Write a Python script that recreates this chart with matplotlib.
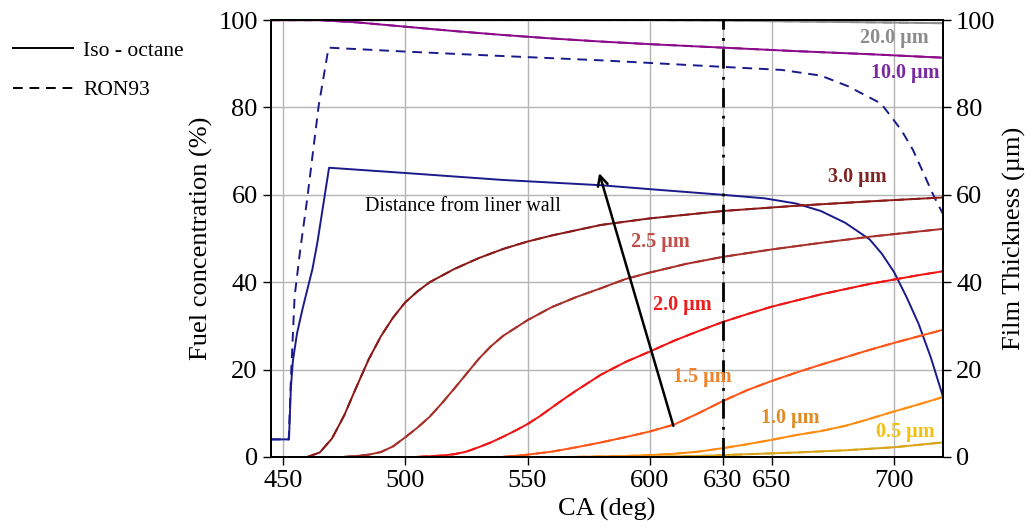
import numpy as np
import matplotlib
matplotlib.use('Agg')
from matplotlib import pyplot as plt
from matplotlib.lines import Line2D

plt.rcParams['font.family'] = 'serif'
plt.rcParams['font.serif'] = ['Liberation Serif', 'DejaVu Serif']

# fuel concentration, iso-octane (solid) and RON93 (dashed)
ca_iso = [445, 452.4, 453.2, 454, 455.7, 458, 460, 462, 464, 468.8, 500, 540, 580, 600, 630,
          647, 660, 670, 680, 690, 695, 700, 705, 710, 715, 720]
fc_iso = [4.0, 4.0, 16, 22, 28.3, 34, 38.5, 43, 49, 66.2, 65.0, 63.4, 62.2, 61.3, 60.0,
          59.2, 58.0, 56.3, 53.6, 49.8, 46.5, 42.3, 36.7, 30.5, 22.8, 13.8]
ca_ron = [445, 452.3, 453.2, 454.7, 457, 459.8, 464.5, 468.6, 500, 539, 580, 630, 654,
          670, 681, 694.7, 703, 707.7, 712, 716, 720]
fc_ron = [4.0, 4.0, 18, 36.7, 47.4, 58.8, 80.2, 93.7, 92.8, 91.8, 90.8, 89.3, 88.6,
          87.3, 84.9, 80.9, 74.8, 70.3, 65, 60, 55.6]

# film thickness curves (solid and dashed coincide)
ca_20 = [445, 600, 630, 660, 690, 720]
ft_20 = [100, 100, 99.9, 99.7, 99.5, 99.3]
ca_10 = [445, 465, 480, 500, 520, 540, 560, 580, 600, 630, 660, 690, 720]
ft_10 = [100, 100, 99.5, 98.5, 97.5, 96.6, 95.8, 95.1, 94.5, 93.7, 92.9, 92.2, 91.4]
ca_30 = [460, 465, 470, 475, 480, 485, 490, 495, 500, 505, 510, 520, 530, 540, 550, 560,
         580, 600, 630, 660, 690, 720]
ft_30 = [0, 1.0, 4.2, 9.5, 16.0, 22.3, 27.6, 31.9, 35.4, 37.9, 40.0, 43.0, 45.5, 47.6,
         49.3, 50.7, 53.1, 54.6, 56.3, 57.5, 58.5, 59.4]
ca_25 = [475, 480, 485, 490, 495, 500, 505, 510, 515, 520, 525, 530, 535, 540, 550, 560,
         570, 580, 590, 600, 615, 630, 650, 670, 690, 705, 720]
ft_25 = [0, 0.2, 0.5, 1.1, 2.4, 4.5, 6.7, 9.2, 12.3, 15.6, 19.0, 22.4, 25.3, 27.7, 31.3,
         34.3, 36.6, 38.6, 40.7, 42.2, 44.2, 45.8, 47.5, 49.0, 50.4, 51.3, 52.2]
ca_20um = [505, 515, 520, 525, 530, 535, 540, 545, 550, 555, 560, 565, 570, 575, 580, 590,
           600, 610, 620, 630, 640, 650, 660, 670, 680, 690, 700, 710, 720]
ft_20um = [0, 0.3, 0.6, 1.2, 2.2, 3.3, 4.6, 6.0, 7.5, 9.3, 11.3, 13.3, 15.2, 17.0, 18.8,
           21.7, 24.1, 26.6, 28.8, 30.9, 32.7, 34.4, 35.8, 37.2, 38.4, 39.6, 40.6, 41.6, 42.5]
ca_15 = [540, 550, 560, 570, 580, 590, 600, 610, 620, 630, 640, 650, 660, 670, 680, 690,
         700, 710, 720]
ft_15 = [0, 0.5, 1.2, 2.2, 3.3, 4.5, 5.8, 7.4, 10.0, 12.8, 15.3, 17.4, 19.3, 21.1, 22.8,
         24.5, 26.1, 27.6, 29.1]
ca_10um = [570, 580, 590, 600, 610, 620, 630, 640, 650, 660, 670, 680, 690, 700, 710, 720]
ft_10um = [0, 0.1, 0.2, 0.4, 0.7, 1.2, 2.0, 2.9, 3.9, 5.0, 5.9, 7.1, 8.7, 10.4, 12.0, 13.7]
ca_05 = [600, 620, 640, 660, 680, 700, 720]
ft_05 = [0, 0.2, 0.6, 1.0, 1.5, 2.2, 3.3]

films = [
    (ca_20, ft_20, '#8c8c8c', '20.0 µm', '#8c8c8c', (700, 95.8)),
    (ca_10, ft_10, '#8b0a8b', '10.0 µm', '#7a2aa0', (704.5, 88.0)),
    (ca_30, ft_30, '#8b1a1a', '3.0 µm', '#7f2424', (685, 64.0)),
    (ca_25, ft_25, '#a8302a', '2.5 µm', '#c0504a', (604.5, 49.1)),
    (ca_20um, ft_20um, '#f01414', '2.0 µm', '#ee1c1c', (613.2, 34.7)),
    (ca_15, ft_15, '#ff5518', '1.5 µm', '#f0822a', (621.5, 18.4)),
    (ca_10um, ft_10um, '#ff8c10', '1.0 µm', '#e08a22', (657.7, 9.0)),
    (ca_05, ft_05, '#d8a418', '0.5 µm', '#f2c010', (704.5, 5.8)),
]

xticks = [450, 500, 550, 600, 630, 650, 700]
yticks = [0, 20, 40, 60, 80, 100]

fig = plt.figure(figsize=(10.3, 5.3), dpi=100)
ax = fig.add_axes([0.263, 0.138, 0.6525, 0.824])

ax.plot(ca_iso, fc_iso, color='#1a1a8c', lw=1.4)
ax.plot(ca_ron, fc_ron, color='#1a1a8c', lw=1.4, ls=(0, (5, 3.5)))
for xs, ys, c, lab, lc, pos in films:
    ax.plot(xs, ys, color=c, lw=1.4)
    ax.plot(xs, ys, color=c, lw=1.4, ls=(0, (5, 3.5)))
    ax.text(pos[0], pos[1], lab, color=lc, fontsize=14.5, fontweight='bold',
            ha='center', va='center')

ax.axvline(630, color='black', lw=2, ls=(0, (7, 3, 1, 3)))

ax.text(483.5, 57.3, 'Distance from liner wall', fontsize=14.5, va='center', ha='left')
ax.annotate('', xy=(579, 65.6), xytext=(610, 6.5),
            arrowprops=dict(arrowstyle='->', color='black', lw=1.8, mutation_scale=18))

ax.set_xlim(445, 720)
ax.set_ylim(0, 100)
ax.set_xticks(xticks)
ax.set_yticks(yticks)
ax.grid(True, color='#b4b4b4', lw=1)
ax.set_axisbelow(True)
ax.tick_params(labelsize=19, direction='out', length=6, width=1)
ax.set_xlabel('CA (deg)', fontsize=19, labelpad=4)
ax.set_ylabel('Fuel concentration (%)', fontsize=19, labelpad=4)

ax2 = ax.twinx()
ax2.set_ylim(0, 100)
ax2.set_yticks(yticks)
ax2.tick_params(labelsize=19, direction='out', length=6, width=1)
ax2.set_ylabel('Film Thickness (µm)', fontsize=19, labelpad=5)

for a in (ax, ax2):
    for s in a.spines.values():
        s.set_linewidth(1.3)

handles = [Line2D([], [], color='black', lw=1.4),
           Line2D([], [], color='black', lw=1.4, ls=(0, (5, 3.5)))]
fig.legend(handles, ['Iso - octane', 'RON93'], loc='upper left',
           bbox_to_anchor=(-0.006, 0.96), frameon=False, fontsize=15.5,
           handlelength=2.8, handletextpad=0.45, labelspacing=0.9)

fig.savefig('out.png', dpi=100)
